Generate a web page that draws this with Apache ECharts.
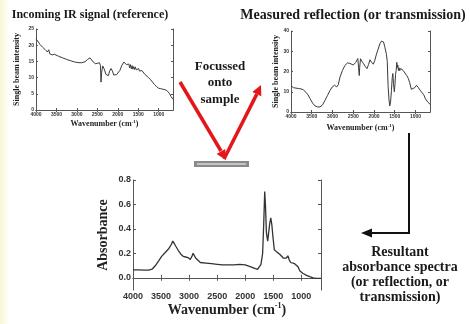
<!DOCTYPE html>
<html>
<head>
<meta charset="utf-8">
<script src="https://cdn.jsdelivr.net/npm/echarts@6/dist/echarts.min.js"></script>
<style>
  html, body { margin: 0; padding: 0; background: #fff; }
  #main { width: 470px; height: 324px; }
</style>
</head>
<body>
<div id="main"></div>
<script>
// 入射IR信号（参考）
var wn1 = [4000, 3960, 3930, 3900, 3870, 3840, 3810, 3780, 3750, 3720, 3690, 3660, 3630, 3600, 3550, 3450, 3350, 3250, 3150, 3050, 2950, 2880, 2800, 2740, 2680, 2640, 2600, 2550, 2500, 2450, 2425, 2410, 2395, 2370, 2330, 2290, 2250, 2230, 2200, 2165, 2130, 2100, 2070, 2030, 1990, 1950, 1900, 1850, 1820, 1790, 1770, 1750, 1730, 1710, 1690, 1670, 1650, 1630, 1610, 1590, 1570, 1550, 1530, 1510, 1490, 1470, 1450, 1430, 1410, 1390, 1370, 1340, 1300, 1250, 1200, 1150, 1100, 1050, 1000, 950, 900, 850, 800, 760, 730, 700, 670, 650];
var val1 = [22.0, 21.3, 21.0, 20.2, 20.6, 19.4, 19.9, 18.7, 19.2, 17.9, 18.6, 17.3, 17.9, 17.0, 17.2, 16.6, 16.1, 15.6, 15.2, 14.8, 14.6, 14.6, 14.9, 15.6, 16.1, 15.8, 14.8, 14.3, 14.4, 14.6, 13.8, 8.6, 11.5, 13.6, 12.6, 11.0, 10.4, 10.6, 12.0, 12.8, 12.0, 10.8, 10.6, 10.9, 11.0, 12.2, 13.8, 14.8, 14.6, 14.0, 14.5, 13.4, 14.2, 13.0, 14.0, 12.7, 13.7, 12.6, 13.4, 12.5, 13.3, 12.4, 13.0, 12.2, 12.8, 12.0, 12.5, 11.8, 12.2, 11.6, 11.8, 11.0, 10.6, 10.0, 9.4, 8.6, 7.8, 7.2, 6.7, 6.6, 6.4, 6.3, 6.0, 5.6, 5.0, 4.2, 3.6, 3.3];

// 测得的反射（或透射）
var wn2 = [4000, 3970, 3940, 3910, 3880, 3850, 3820, 3790, 3760, 3730, 3700, 3660, 3600, 3540, 3480, 3420, 3360, 3300, 3240, 3180, 3120, 3060, 3000, 2950, 2900, 2860, 2820, 2760, 2700, 2640, 2580, 2500, 2440, 2390, 2365, 2355, 2345, 2325, 2290, 2250, 2210, 2170, 2130, 2096, 2060, 2016, 1980, 1940, 1900, 1860, 1820, 1795, 1770, 1740, 1720, 1700, 1680, 1660, 1640, 1620, 1600, 1580, 1560, 1545, 1530, 1510, 1495, 1480, 1465, 1450, 1440, 1425, 1410, 1395, 1380, 1360, 1333, 1300, 1253, 1210, 1173, 1140, 1100, 1060, 1020, 972, 930, 890, 851, 800, 760, 730, 700, 680, 650];
var val2 = [13.0, 12.7, 12.0, 12.6, 11.8, 12.4, 11.6, 12.1, 11.4, 11.6, 11.0, 10.4, 8.8, 6.6, 4.4, 3.0, 2.5, 2.5, 3.5, 5.8, 8.2, 10.7, 12.5, 13.2, 12.4, 13.5, 17.2, 20.5, 23.0, 24.2, 24.0, 23.2, 24.5, 26.4, 27.0, 18.0, 22.0, 26.3, 25.0, 23.8, 22.5, 21.4, 23.5, 25.8, 24.6, 23.6, 25.5, 28.6, 31.0, 33.6, 35.0, 35.8, 34.6, 32.2, 31.5, 28.5, 25.0, 13.0, 6.5, 3.0, 5.0, 10.5, 17.0, 19.0, 14.0, 10.0, 13.5, 18.5, 20.5, 24.5, 22.0, 23.2, 20.5, 21.8, 20.4, 21.5, 21.2, 20.6, 19.8, 18.0, 16.6, 14.5, 11.2, 10.6, 12.0, 13.2, 12.0, 10.8, 10.0, 8.5, 6.5, 5.6, 4.8, 4.2, 3.8];

// 吸光度
var wn3 = [4000, 3900, 3800, 3720, 3660, 3600, 3540, 3490, 3430, 3360, 3320, 3290, 3270, 3240, 3195, 3150, 3107, 3060, 3020, 2980, 2950, 2930, 2910, 2880, 2850, 2800, 2700, 2600, 2500, 2400, 2300, 2200, 2100, 2000, 1900, 1820, 1780, 1750, 1720, 1690, 1670, 1653, 1640, 1623, 1600, 1580, 1565, 1545, 1525, 1505, 1482, 1460, 1435, 1410, 1390, 1360, 1318, 1270, 1240, 1215, 1190, 1160, 1120, 1095, 1060, 1025, 970, 908, 850, 790, 730, 650];
var val3 = [0.065, 0.064, 0.062, 0.062, 0.07, 0.1, 0.14, 0.175, 0.205, 0.24, 0.27, 0.30, 0.285, 0.26, 0.225, 0.195, 0.176, 0.17, 0.165, 0.15, 0.175, 0.20, 0.185, 0.16, 0.145, 0.125, 0.12, 0.115, 0.11, 0.105, 0.105, 0.105, 0.11, 0.105, 0.09, 0.075, 0.068, 0.08, 0.11, 0.2, 0.45, 0.705, 0.6, 0.37, 0.30, 0.38, 0.44, 0.49, 0.43, 0.33, 0.23, 0.22, 0.21, 0.22, 0.195, 0.18, 0.16, 0.16, 0.18, 0.145, 0.125, 0.11, 0.115, 0.125, 0.09, 0.055, 0.035, 0.02, 0.01, 0.0, -0.005, -0.005];

var wnTicks = [1000, 1500, 2000, 2500, 3000, 3500, 4000];
var yTicks1 = [0, 5, 10, 15, 20, 25];
var yTicks2 = [0, 10, 20, 30, 40];
var yTicks3 = [0, 0.2, 0.4, 0.6, 0.8];

function pairs(xs, ys) {
  return xs.map(function (x, i) { return [x, ys[i]]; });
}

var serif = '"Liberation Serif", "DejaVu Serif", serif';
var sans = 'Arial, "Liberation Sans", sans-serif';
var frame = { lineStyle: { color: '#555', width: 1 } };
var wnName = 'Wavenumber (cm{sup|-1})';

// 底部和顶部x轴（顶部只画刻度，做成边框）
function xAxes(gridIndex, tickLen, labelSize, nameSize, nameGap) {
  return [
    {
      type: 'value', gridIndex: gridIndex, min: 650, max: 4000, inverse: true, position: 'bottom',
      axisLine: frame,
      axisTick: { inside: true, length: tickLen, customValues: wnTicks, lineStyle: { color: '#555' } },
      axisLabel: { customValues: wnTicks, fontSize: labelSize, fontWeight: 'bold', color: '#333', margin: 2, fontFamily: sans, formatter: function (v) { return String(v); } },
      splitLine: { show: false },
      name: wnName, nameLocation: 'middle', nameGap: nameGap,
      nameTextStyle: {
        fontFamily: serif, fontWeight: 'bold', fontSize: nameSize, color: '#222',
        rich: { sup: { fontFamily: serif, fontWeight: 'bold', fontSize: Math.round(nameSize * 0.6), color: '#222', padding: [0, 0, Math.round(nameSize * 0.6), 0] } }
      }
    },
    {
      type: 'value', gridIndex: gridIndex, min: 650, max: 4000, inverse: true, position: 'top',
      axisLine: frame,
      axisTick: { inside: true, length: tickLen, customValues: wnTicks, lineStyle: { color: '#555' } },
      axisLabel: { show: false },
      splitLine: { show: false }
    }
  ];
}

function yAxes(gridIndex, min, max, ticks, tickLen, labelSize, name, nameSize, nameGap, fmt) {
  return [
    {
      type: 'value', gridIndex: gridIndex, min: min, max: max, position: 'left',
      axisLine: frame,
      axisTick: { inside: true, length: tickLen, customValues: ticks, lineStyle: { color: '#555' } },
      axisLabel: { customValues: ticks, fontSize: labelSize, fontWeight: 'bold', color: '#333', margin: 2, formatter: fmt, fontFamily: sans },
      splitLine: { show: false },
      name: name, nameLocation: 'middle', nameGap: nameGap,
      nameTextStyle: { fontFamily: serif, fontWeight: 'bold', fontSize: nameSize, color: '#222' }
    },
    {
      type: 'value', gridIndex: gridIndex, min: min, max: max, position: 'right',
      axisLine: frame,
      axisTick: { inside: true, length: tickLen, customValues: ticks, lineStyle: { color: '#555' } },
      axisLabel: { show: false },
      splitLine: { show: false }
    }
  ];
}

var chart = echarts.init(document.getElementById('main'));

var titleStyle = { fontFamily: serif, fontWeight: 'bold', fill: '#1a1a1a' };
var red = '#e3161b';

chart.setOption({
  backgroundColor: '#ffffff',
  animation: false,
  grid: [
    { left: 36, top: 29, width: 137, height: 81 },
    { left: 291, top: 31, width: 139, height: 81 },
    { left: 133, top: 180, width: 188, height: 110 }
  ],
  xAxis: [].concat(
    xAxes(0, 2, 5, 8, 9),
    xAxes(1, 2, 5, 8, 11),
    xAxes(2, 3, 9, 14, 12)
  ),
  yAxis: [].concat(
    yAxes(0, 0, 25, yTicks1, 2, 5, 'Single beam intensity', 8, 15, function (v) { return String(v); }),
    yAxes(1, 0, 40, yTicks2, 2, 5, 'Single beam intensity', 8, 11, function (v) { return String(v); }),
    yAxes(2, -0.1, 0.8, yTicks3, 3, 9, 'Absorbance', 14, 23, function (v) { return v.toFixed(1); })
  ),
  series: [
    { type: 'line', xAxisIndex: 0, yAxisIndex: 0, data: pairs(wn1, val1), symbol: 'none', lineStyle: { color: '#3a3a3a', width: 1 } },
    { type: 'line', xAxisIndex: 2, yAxisIndex: 2, data: pairs(wn2, val2), symbol: 'none', lineStyle: { color: '#3a3a3a', width: 1 } },
    { type: 'line', xAxisIndex: 4, yAxisIndex: 4, data: pairs(wn3, val3), symbol: 'none', lineStyle: { color: '#333', width: 1.3 } }
  ],
  graphic: [
    // 左侧淡黄色边
    { type: 'rect', left: 0, top: 0, shape: { width: 9, height: 324 }, style: { fill: new echarts.graphic.LinearGradient(0, 0, 1, 0, [{ offset: 0, color: '#f8f6d2' }, { offset: 1, color: '#ffffff' }]) }, z: -1 },
    { type: 'text', x: 90, y: 15, style: Object.assign({ text: 'Incoming IR signal (reference)', fontSize: 12, align: 'center', verticalAlign: 'middle' }, titleStyle) },
    { type: 'text', x: 353, y: 15, style: Object.assign({ text: 'Measured reflection (or transmission)', fontSize: 14, align: 'center', verticalAlign: 'middle' }, titleStyle) },
    { type: 'text', x: 220, y: 83, style: Object.assign({ text: 'Focussed\nonto\nsample', fontSize: 13, lineHeight: 16.5, align: 'center', verticalAlign: 'middle' }, titleStyle) },
    { type: 'text', x: 400, y: 274.5, style: Object.assign({ text: 'Resultant\nabsorbance spectra\n(or reflection, or\ntransmission)', fontSize: 14, lineHeight: 15, align: 'center', verticalAlign: 'middle' }, titleStyle) },
    // 红色箭头
    { type: 'line', shape: { x1: 180, y1: 82, x2: 221, y2: 151 }, style: { stroke: red, lineWidth: 3.5 } },
    { type: 'polygon', shape: { points: [[226, 160], [216.6, 153.9], [225.2, 148.9]] }, style: { fill: red } },
    { type: 'line', shape: { x1: 224, y1: 159, x2: 256.8, y2: 94.1 }, style: { stroke: red, lineWidth: 3.5 } },
    { type: 'polygon', shape: { points: [[261, 85], [261.3, 96.2], [252.3, 92]] }, style: { fill: red } },
    // 样品条
    { type: 'rect', shape: { x: 194, y: 161, width: 55, height: 6 }, style: { fill: '#8a8a8a' } },
    { type: 'rect', shape: { x: 197, y: 163, width: 49, height: 2 }, style: { fill: '#c4c4c4' } },
    // 黑色箭头
    { type: 'polyline', shape: { points: [[409, 133], [409, 233], [371, 233]] }, style: { stroke: '#111', lineWidth: 2, fill: null } },
    { type: 'polygon', shape: { points: [[361, 233], [372, 228.5], [372, 237.5]] }, style: { fill: '#111' } }
  ]
});
</script>
</body>
</html>
